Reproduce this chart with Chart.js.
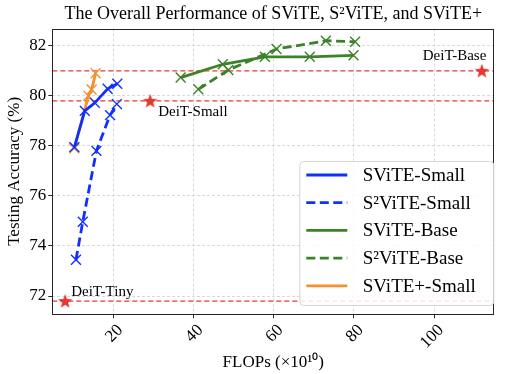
<!DOCTYPE html>
<html>
<head>
<meta charset="utf-8">
<script src="https://cdn.jsdelivr.net/npm/chart.js@4.4.1/dist/chart.umd.min.js"></script>
<style>
  html, body { margin: 0; padding: 0; background: #fff; }
  #wrap { width: 507px; height: 374px; }
</style>
</head>
<body>
<div id="wrap"><canvas id="chart"></canvas></div>
<script>
// values: FLOPs in units of 1e10, accuracy in %
var seriesNames = ['SViTE-Small', 'S\u00b2ViTE-Small', 'SViTE-Base', 'S\u00b2ViTE-Base', 'SViTE+-Small'];

var sviteSmallFlops = [10.3, 12.9, 15.4, 18.6, 21.0];
var sviteSmallAcc = [77.95, 79.4, 79.72, 80.28, 80.48];

var s2viteSmallFlops = [10.7, 12.4, 15.8, 19.2, 20.9];
var s2viteSmallAcc = [73.45, 74.97, 77.8, 79.23, 79.67];

var sviteBaseFlops = [36.8, 47.3, 57.8, 69.0, 79.9];
var sviteBaseAcc = [80.73, 81.26, 81.56, 81.56, 81.62];

var s2viteBaseFlops = [41.2, 48.7, 60.7, 73.0, 80.3];
var s2viteBaseAcc = [80.26, 81.03, 81.87, 82.2, 82.16];

var svitePlusFlops = [10.3, 13.8, 14.6, 15.6];
var svitePlusAcc = [77.9, 80.0, 80.25, 80.9];

var refNames = ['DeiT-Tiny', 'DeiT-Small', 'DeiT-Base'];
var refFlops = [8.0, 29.2, 111.9];
var refAcc = [71.8, 79.8, 81.0];

var xTicks = [20, 40, 60, 80, 100];
var yTicks = [72, 74, 76, 78, 80, 82];
var xMin = 4.8, xMax = 115;
var yMin = 71.27, yMax = 82.69;

(function () {
  'use strict';

  var colors = {
    blue: '#1030ff',
    green: '#3c8228',
    orange: '#f39030',
    red: '#e8382e',
    grid: '#cfcfcf',
    frame: '#262626'
  };
  var serif = '"Liberation Serif", "Times New Roman", serif';

  function pairs(xs, ys) {
    return xs.map(function (x, i) { return { x: x, y: ys[i] }; });
  }

  // filled star marker for the DeiT reference points
  function makeStar(size, color) {
    var c = document.createElement('canvas');
    c.width = size; c.height = size;
    var g = c.getContext('2d');
    var cx = size / 2, cy = size / 2 + 0.6, R = size / 2 - 0.5, r = R * 0.42;
    g.beginPath();
    for (var i = 0; i < 10; i++) {
      var rad = (i % 2 === 0 ? R : r);
      var a = -Math.PI / 2 + i * Math.PI / 5;
      g.lineTo(cx + rad * Math.cos(a), cy + rad * Math.sin(a));
    }
    g.closePath();
    g.fillStyle = color;
    g.fill();
    return c;
  }

  function series(label, xs, ys, color, dash) {
    return {
      label: label,
      data: pairs(xs, ys),
      borderColor: color,
      backgroundColor: color,
      borderWidth: 2.8,
      borderDash: dash || [],
      pointStyle: 'crossRot',
      pointRadius: 7,
      pointBorderWidth: 1.4,
      pointBorderColor: color,
      showLine: true,
      tension: 0
    };
  }

  var datasets = [
    series(seriesNames[0], sviteSmallFlops, sviteSmallAcc, colors.blue),
    series(seriesNames[1], s2viteSmallFlops, s2viteSmallAcc, colors.blue, [9, 4.5]),
    series(seriesNames[2], sviteBaseFlops, sviteBaseAcc, colors.green),
    series(seriesNames[3], s2viteBaseFlops, s2viteBaseAcc, colors.green, [9, 4.5]),
    series(seriesNames[4], svitePlusFlops, svitePlusAcc, colors.orange)
  ];

  var starIndex = datasets.length;
  datasets.push({
    label: 'DeiT',
    data: pairs(refFlops, refAcc),
    showLine: false,
    pointStyle: makeStar(16, colors.red),
    pointRadius: 8,
    clip: false
  });

  // horizontal reference lines across the whole axis
  refAcc.forEach(function (acc) {
    datasets.push({
      label: 'ref',
      data: [{ x: xMin, y: acc }, { x: xMax, y: acc }],
      borderColor: colors.red,
      borderWidth: 1.3,
      borderDash: [5, 3],
      pointRadius: 0,
      showLine: true
    });
  });

  var framePlugin = {
    id: 'frame',
    afterDraw: function (chart) {
      var a = chart.chartArea, ctx = chart.ctx;
      ctx.save();
      ctx.strokeStyle = colors.frame;
      ctx.lineWidth = 1;
      ctx.strokeRect(Math.round(a.left) + 0.5, Math.round(a.top) + 0.5,
        Math.round(a.right - a.left) - 1, Math.round(a.bottom - a.top) - 1);
      ctx.restore();
    }
  };

  var refLabelPlugin = {
    id: 'refLabels',
    afterDatasetsDraw: function (chart) {
      var ctx = chart.ctx;
      var meta = chart.getDatasetMeta(starIndex);
      var place = [
        { dx: 6, dy: -5, align: 'left' },
        { dx: 8, dy: 15.5, align: 'left' },
        { dx: 4.5, dy: -11, align: 'right' }
      ];
      ctx.save();
      ctx.font = '15px ' + serif;
      ctx.fillStyle = '#000';
      ctx.textBaseline = 'alphabetic';
      meta.data.forEach(function (pt, i) {
        ctx.textAlign = place[i].align;
        ctx.fillText(refNames[i], pt.x + place[i].dx, pt.y + place[i].dy);
      });
      ctx.restore();
    }
  };

  var legendPlugin = {
    id: 'boxLegend',
    afterDraw: function (chart) {
      var ctx = chart.ctx, a = chart.chartArea;
      var w = 194, h = 144;
      var x = a.right - w - 1, y = a.bottom - h - 9.3;
      ctx.save();
      ctx.beginPath();
      ctx.roundRect(x + 0.5, y + 0.5, w, h, 4);
      ctx.fillStyle = 'rgba(255,255,255,0.85)';
      ctx.fill();
      ctx.strokeStyle = '#d6d6d6';
      ctx.lineWidth = 1;
      ctx.stroke();
      ctx.font = '19px ' + serif;
      ctx.textBaseline = 'middle';
      ctx.textAlign = 'left';
      seriesNames.forEach(function (name, i) {
        var ds = chart.data.datasets[i];
        var cy = y + 14 + i * 27.7;
        ctx.strokeStyle = ds.borderColor;
        ctx.lineWidth = ds.borderWidth;
        ctx.setLineDash(ds.borderDash || []);
        ctx.beginPath();
        ctx.moveTo(x + 7, cy);
        ctx.lineTo(x + 48, cy);
        ctx.stroke();
        ctx.setLineDash([]);
        ctx.fillStyle = '#000';
        ctx.fillText(name, x + 63.4, cy + 1);
      });
      ctx.restore();
    }
  };

  new Chart(document.getElementById('chart'), {
    type: 'scatter',
    data: { datasets: datasets },
    plugins: [framePlugin, refLabelPlugin, legendPlugin],
    options: {
      responsive: true,
      maintainAspectRatio: false,
      devicePixelRatio: 1,
      animation: false,
      layout: { padding: { top: 0, right: 12.7, bottom: 0, left: 0 } },
      plugins: {
        legend: { display: false },
        tooltip: { enabled: false },
        title: {
          display: true,
          fullSize: false,
          text: 'The Overall Performance of SViTE, S\u00b2ViTE, and SViTE+',
          color: '#000',
          font: { family: serif, size: 18, weight: 'normal' },
          padding: { top: 3, bottom: 3.9 }
        }
      },
      scales: {
        x: {
          type: 'linear',
          min: xMin,
          max: xMax,
          afterBuildTicks: function (scale) {
            scale.ticks = xTicks.map(function (v) { return { value: v }; });
          },
          afterFit: function (scale) { scale.height = 59.7; },
          ticks: {
            color: '#000',
            font: { family: serif, size: 17 },
            minRotation: 45,
            maxRotation: 45,
            labelOffset: 7,
            padding: 2
          },
          grid: {
            color: colors.grid,
            lineWidth: 0.8,
            tickColor: colors.frame,
            tickLength: 4,
            tickWidth: 1
          },
          border: { display: false, dash: [3, 2] },
          title: {
            display: true,
            text: 'FLOPs (\u00d710\u00b9\u2070)',
            color: '#000',
            font: { family: serif, size: 17 },
            padding: { top: 0, bottom: 1 }
          }
        },
        y: {
          type: 'linear',
          min: yMin,
          max: yMax,
          afterBuildTicks: function (scale) {
            scale.ticks = yTicks.map(function (v) { return { value: v }; });
          },
          afterFit: function (scale) { scale.width = 52.3; },
          ticks: {
            color: '#000',
            font: { family: serif, size: 17 },
            padding: 2
          },
          grid: {
            color: colors.grid,
            lineWidth: 0.8,
            tickColor: colors.frame,
            tickLength: 4,
            tickWidth: 1
          },
          border: { display: false, dash: [3, 2] },
          title: {
            display: true,
            text: 'Testing Accuracy (%)',
            color: '#000',
            font: { family: serif, size: 17 },
            padding: { top: 4.5, bottom: 0 }
          }
        }
      }
    }
  });
})();
</script>
</body>
</html>
